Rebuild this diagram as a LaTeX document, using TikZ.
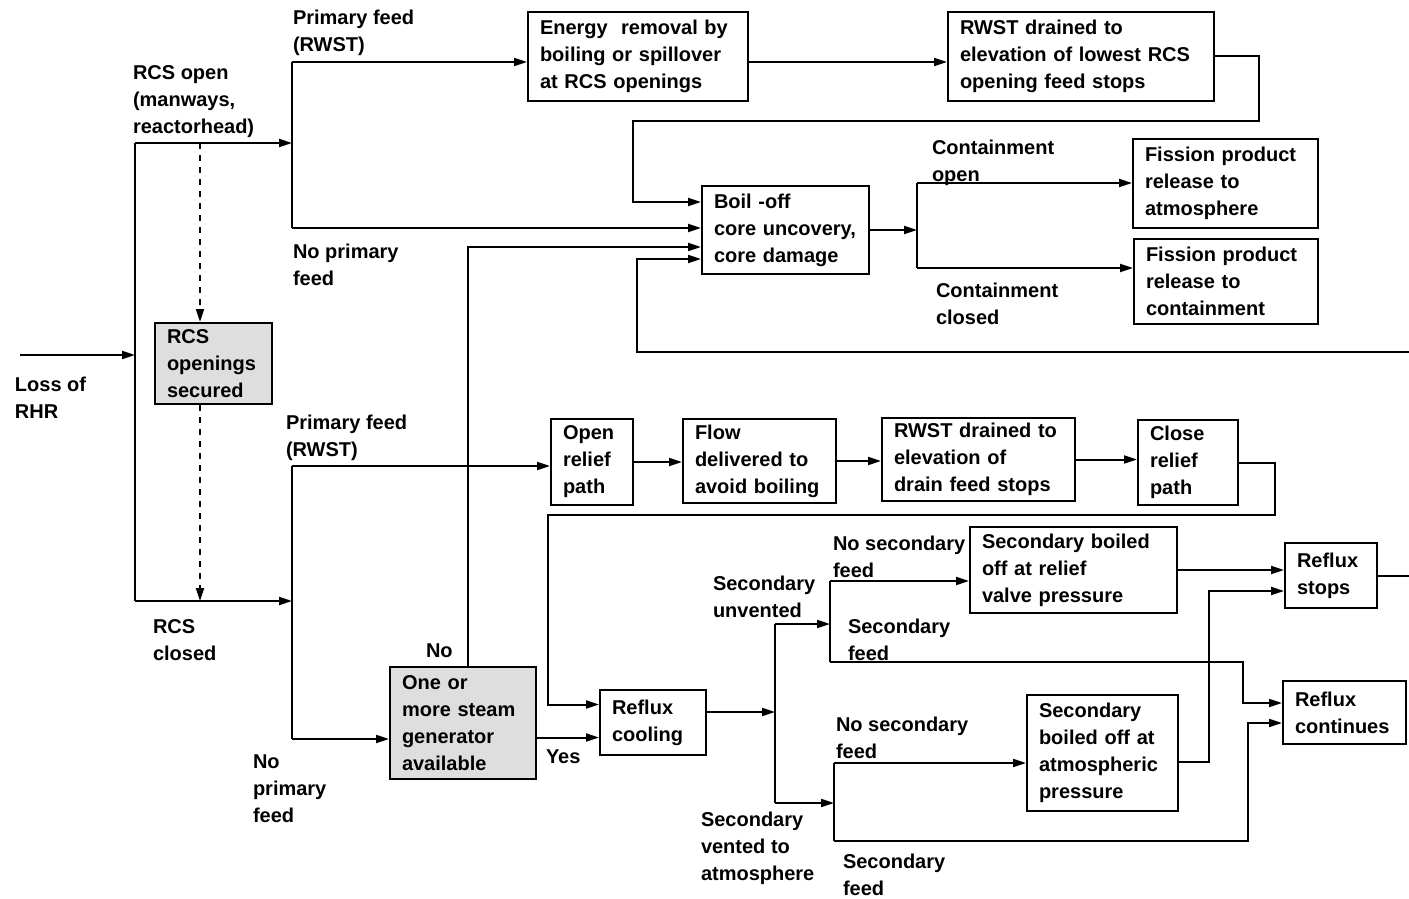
\documentclass[tikz,border=0pt]{standalone}
\usepackage{fontspec}
\setmainfont{Liberation Sans}
\usetikzlibrary{arrows.meta,calc}

\begin{document}
\begin{tikzpicture}[x=0.5pt,y=-0.5pt,line width=1pt,
  every node/.style={font=\bfseries\fontsize{10}{13.5}\selectfont},
  box/.style={draw,align=left,inner xsep=6pt,inner ysep=1pt},
  grey box/.style={box,fill=black!13},
  lbl/.style={align=left,inner sep=0pt,anchor=north west},
  arr/.style={-{Triangle[length=6.5pt,width=4pt]}}]
\useasboundingbox (0,0) rectangle (1409,899);

% boxes, upper part
\node[box,text width=98pt,minimum height=44.5pt] (energy) at (638,56.5) {Energy\ \ removal by\\boiling or spillover\\at RCS openings};
\node[box,text width=121pt,minimum height=44.5pt] (rwstA) at (1081,56.5) {RWST drained to\\elevation of lowest RCS\\opening feed stops};
\node[box,text width=71.5pt,minimum height=44pt] (boil) at (785.5,230) {Boil -off\\core uncovery,\\core damage};
\node[box,text width=80.5pt,minimum height=44.5pt] (fpatm) at (1225.5,183.5) {Fission product\\release to\\atmosphere};
\node[box,text width=80pt,minimum height=42.5pt] (fpcont) at (1226,281.5) {Fission product\\release to\\containment};
\node[grey box,text width=46.5pt,minimum height=40.5pt] (secured) at (213.5,363.5) {RCS\\openings\\secured};

% boxes, lower part
\node[box,text width=29pt,minimum height=43pt] (openrel) at (592,462) {Open\\relief\\path};
\node[box,text width=64.5pt,minimum height=42pt] (flow) at (759.5,461) {Flow\\delivered to\\avoid boiling};
\node[box,text width=84.5pt,minimum height=41.5pt] (rwstB) at (978.5,459.5) {RWST drained to\\elevation of\\drain feed stops};
\node[box,text width=38pt,minimum height=42.5pt] (closerel) at (1188,462.5) {Close\\relief\\path};
\node[grey box,text width=61pt,minimum height=56pt] (sg) at (463,723) {One or\\more steam\\generator\\available};
\node[box,text width=41pt,minimum height=32.5pt] (refluxcool) at (653,722.5) {Reflux\\cooling};
\node[box,text width=91.5pt,minimum height=43pt] (boilrel) at (1073.5,570) {Secondary boiled\\off at relief\\valve pressure};
\node[box,text width=34pt,minimum height=32.5pt] (refluxstop) at (1331,575.5) {Reflux\\stops};
\node[box,text width=63.5pt,minimum height=58pt] (boilatm) at (1102.5,753) {Secondary\\boiled off at\\atmospheric\\pressure};
\node[box,text width=49.5pt,minimum height=31.5pt] (refluxcont) at (1344.5,712.5) {Reflux\\continues};

% branch points
\coordinate (in) at (20,355);
\coordinate (split) at (135,355);
\coordinate (topL) at (135,143);
\coordinate (botL) at (135,601);
\coordinate (jA) at (292,143);
\coordinate (jAtop) at (292,62);
\coordinate (jAbot) at (292,228);
\coordinate (jB) at (292,601);
\coordinate (jBtop) at (292,466);
\coordinate (jBbot) at (292,739);
\coordinate (dA) at (200,143);
\coordinate (loopA) at (1259,121);
\coordinate (loopB) at (633,121);
\coordinate (far) at (1409,352);
\coordinate (retC) at (637,352);
\coordinate (jC) at (917,230);
\coordinate (jCtop) at (917,183);
\coordinate (jCbot) at (917,268);
\coordinate (loopC) at (1275,515);
\coordinate (loopD) at (548,515);
\coordinate (rin2) at ($(refluxcool.west)+(0,15)$);
\coordinate (jD) at (775,712);
\coordinate (jDtop) at (775,624);
\coordinate (jDbot) at (775,803);
\coordinate (jE) at (830,624);
\coordinate (jEtop) at (830,581);
\coordinate (jEbot) at (830,662);
\coordinate (jF) at (834,803);
\coordinate (jFtop) at (834,763);
\coordinate (jFbot) at (834,841);
\coordinate (kE) at (1243,662);
\coordinate (kF) at (1248,841);
\coordinate (kG) at (1209,762);
\coordinate (out) at (1409,575.5);

% RCS open
\draw[arr] (in) -- (split);
\draw (topL) -- (botL);
\draw[arr] (topL) -- (jA);
\draw (jAtop) -- (jAbot);
\draw[arr] (jAtop) -- (jAtop -| energy.west);
\draw[arr] (jAbot) -- (jAbot -| boil.west);
\draw[arr] (jAtop -| energy.east) -- (jAtop -| rwstA.west);
\draw[arr] (rwstA.east) -| (loopA) -- (loopB) |- ($(boil.west)+(0,-28)$);
\draw[arr] ($(sg.north)+(5,0)$) |- ($(boil.west)+(0,17)$);
\draw[arr] (far) -- (retC) |- ($(boil.west)+(0,29)$);
\draw[arr] (boil.east) -- (jC);
\draw (jCtop) -- (jCbot);
\draw[arr] (jCtop) -- (jCtop -| fpatm.west);
\draw[arr] (jCbot) -- (jCbot -| fpcont.west);
\draw[arr,dashed] (dA) -- (dA |- secured.north);
\draw[arr,dashed] (dA |- secured.south) -- (dA |- botL);

% RCS closed
\draw[arr] (botL) -- (jB);
\draw (jBtop) -- (jBbot);
\draw[arr] (jBtop) -- (jBtop -| openrel.west);
\draw[arr] (jBbot) -- (jBbot -| sg.west);
\draw[arr] (openrel.east) -- (openrel.east -| flow.west);
\draw[arr] (flow.east) -- (flow.east -| rwstB.west);
\draw[arr] (rwstB.east) -- (rwstB.east -| closerel.west);
\draw[arr] (closerel.east) -| (loopC) -- (loopD) |- ($(refluxcool.west)+(0,-18)$);
\draw[arr] (rin2 -| sg.east) -- (rin2);
\draw[arr] (jD -| refluxcool.east) -- (jD);
\draw (jDtop) -- (jDbot);
\draw[arr] (jDtop) -- (jE);
\draw (jEtop) -- (jEbot);
\draw[arr] (jEtop) -- (jEtop -| boilrel.west);
\draw[arr] (jEbot) -- (kE) |- ($(refluxcont.west)+(0,-9.5)$);
\draw[arr] (jDbot) -- (jF);
\draw (jFtop) -- (jFbot);
\draw[arr] (jFtop) -- (jFtop -| boilatm.west);
\draw[arr] (jFbot) -- (kF) |- ($(refluxcont.west)+(0,10.5)$);
\draw[arr] (boilrel.east) -- (boilrel.east -| refluxstop.west);
\draw[arr] (kG -| boilatm.east) -- (kG) |- ($(refluxstop.west)+(0,15.5)$);
\draw (refluxstop.east) -- (out);

% labels
\node[lbl] (tLoss) at (14,376) {Loss of\\RHR};
\node[lbl] (tOpen) at (132,65) {RCS open\\(manways,\\reactorhead)};
\node[lbl] (tClosed) at (152,619) {RCS\\closed};
\node[lbl] (tFeedA) at (292,9) {Primary feed\\(RWST)};
\node[lbl] (tNoFeedA) at (292,243) {No primary\\feed};
\node[lbl] (tFeedB) at (285,414) {Primary feed\\(RWST)};
\node[lbl] (tNoFeedB) at (252,754) {No\\primary\\feed};
\node[lbl] (tNo) at (425,643) {No};
\node[lbl] (tYes) at (545,749) {Yes};
\node[lbl] (tCOpen) at (931,139) {Containment\\open};
\node[lbl] (tCClosed) at (935,282) {Containment\\closed};
\node[lbl] (tUnvent) at (712,575) {Secondary\\unvented};
\node[lbl] (tNoSecA) at (832,535) {No secondary\\feed};
\node[lbl] (tSecA) at (847,618) {Secondary\\feed};
\node[lbl] (tVent) at (700,811) {Secondary\\vented to\\atmosphere};
\node[lbl] (tNoSecB) at (835,716) {No secondary\\feed};
\node[lbl] (tSecB) at (842,853) {Secondary\\feed};
\end{tikzpicture}
\end{document}
